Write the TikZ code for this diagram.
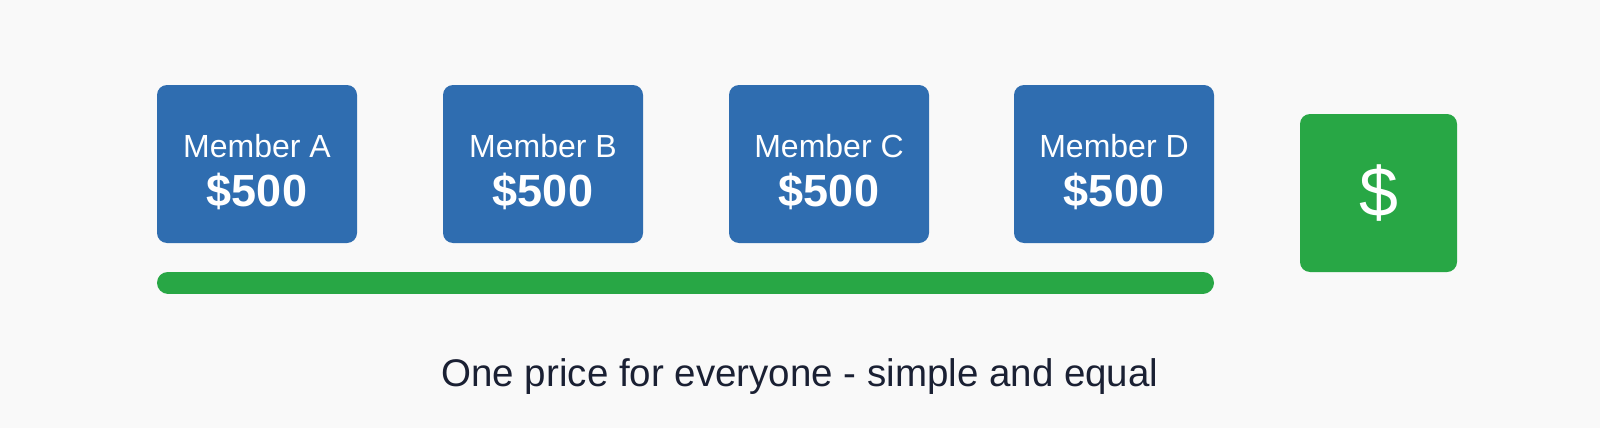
\documentclass[tikz,border=0pt]{standalone}
\usepackage{fontspec}
\setmainfont{Liberation Sans}
\definecolor{bg}{HTML}{F9F9F9}
\definecolor{memblue}{HTML}{2F6DB0}
\definecolor{pgreen}{HTML}{28A745}
\definecolor{captxt}{HTML}{1A2033}
\newcommand{\amt}[1]{{\fontsize{45}{50}\selectfont\bfseries #1}}
\begin{document}
\begin{tikzpicture}[x=1pt,y=-1pt,
  member/.style={fill=memblue,rounded corners=10pt,minimum width=200pt,minimum height=158pt,inner sep=0pt},
  memtext/.style={inner sep=0pt,text=white,align=center,font=\fontsize{32}{38}\selectfont},
  pot/.style={fill=pgreen,rounded corners=10pt,minimum width=157pt,minimum height=158pt,inner sep=0pt,text=white,font=\fontsize{70}{72}\selectfont},
  bar/.style={draw=pgreen,line width=22pt,line cap=round},
  caption/.style={text=captxt,font=\fontsize{38.5}{44}\selectfont,inner sep=0pt}]
\fill[bg] (0,0) rectangle (1600,428);
\useasboundingbox (0,0) rectangle (1600,428);
\node[member] (a) at (257,164) {};
\node[member] (b) at (543,164) {};
\node[member] (c) at (829,164) {};
\node[member] (d) at (1114,164) {};
\node[memtext] (ta) at ([yshift=-8pt]a.center) {Member A\\[11pt]\amt{\$500}};
\node[memtext] (tb) at ([yshift=-8pt]b.center) {Member B\\[11pt]\amt{\$500}};
\node[memtext] (tc) at ([yshift=-8pt]c.center) {Member C\\[11pt]\amt{\$500}};
\node[memtext] (td) at ([yshift=-8pt]d.center) {Member D\\[11pt]\amt{\$500}};
\node[pot] (p) at (1378.5,193) {\$};
\coordinate (bl) at (168,282.5);
\coordinate (br) at (1203,282.5);
\draw[bar] (bl) -- (br);
\node[caption] (cap) at (800,377) {One price for everyone - simple and equal};
\end{tikzpicture}
\end{document}
